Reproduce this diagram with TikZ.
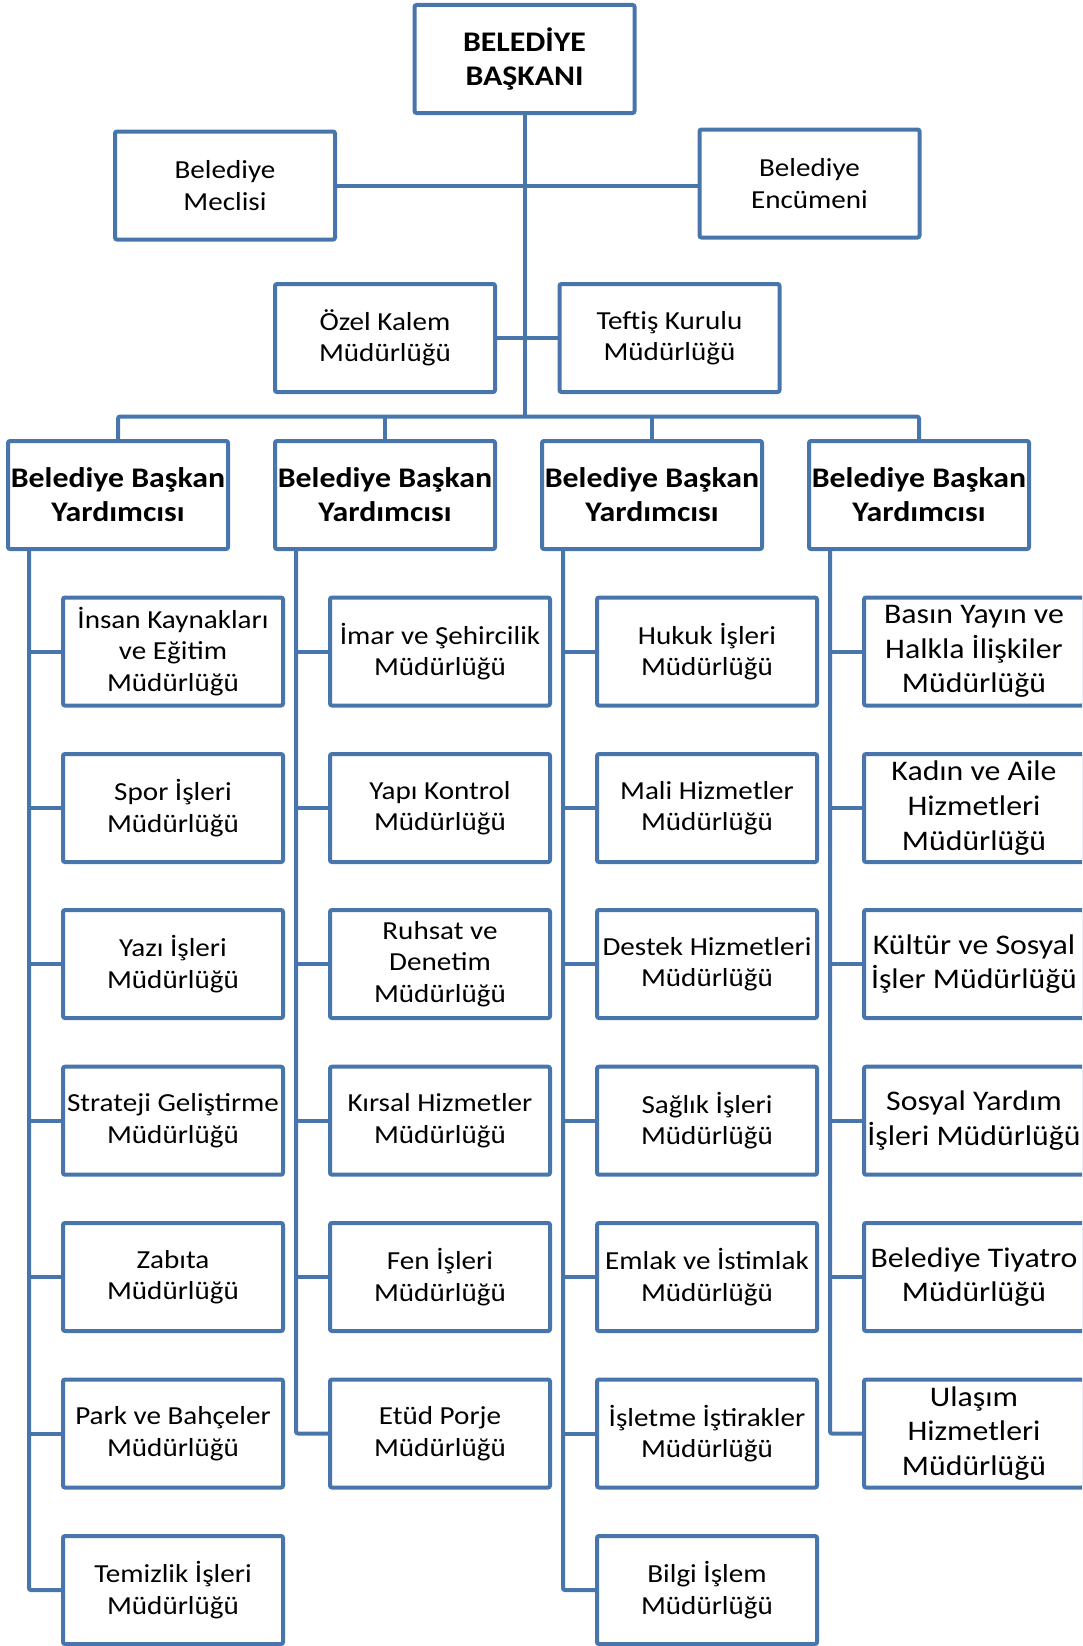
\documentclass[tikz,border=0pt]{standalone}
\usepackage{fontspec}
\setmainfont[FakeStretch=1.12]{Carlito}
\definecolor{obl}{RGB}{72,118,172}
\begin{document}
\begin{tikzpicture}[x=1pt,y=-1pt,
  box/.style={draw=obl,line width=4pt,rounded corners=2pt,fill=white,align=center,
    minimum width=220pt,minimum height=108pt,inner sep=0pt,
    font=\fontsize{26}{31.5}\selectfont},
  bigbox/.style={box,font=\fontsize{28.4}{34.6}\selectfont},
  boldbox/.style={box,font=\bfseries\fontsize{28.4}{34}\selectfont},
  link/.style={draw=obl,line width=4pt,rounded corners=2pt}]
\useasboundingbox (0,0) rectangle (1082,1646);
\clip (0,0) rectangle (1082,1646);
% top levels
\node[boldbox] (bb) at (524.5,59) {BELEDİYE\\BAŞKANI};
\node[box] (mec) at (225,185.5) {Belediye\\Meclisi};
\node[box] (enc) at (809.5,183.5) {Belediye\\Encümeni};
\node[box] (ozk) at (385,338) {Özel Kalem\\Müdürlüğü};
\node[box] (tef) at (669.5,338) {Teftiş Kurulu\\Müdürlüğü};
% deputies
\node[boldbox] (y1) at (118,495) {Belediye Başkan\\Yardımcısı};
\node[boldbox] (y2) at (385,495) {Belediye Başkan\\Yardımcısı};
\node[boldbox] (y3) at (652,495) {Belediye Başkan\\Yardımcısı};
\node[boldbox] (y4) at (919,495) {Belediye Başkan\\Yardımcısı};
\coordinate (bus) at (524.5,416.6);
% connectors top
\draw[link] (bb.south) -- (bus);
\draw[link] (mec.east) -- (enc.west |- mec.east);
\draw[link] (ozk.east) -- (tef.west);
\draw[link] (y1.north) -- (y1.north |- bus) -- (y4.north |- bus) -- (y4.north);
\draw[link] (y2.north) -- (y2.north |- bus);
\draw[link] (y3.north) -- (y3.north |- bus);
% column 1
\node[box] (a1) at (173,651.5) {İnsan Kaynakları\\ve Eğitim\\Müdürlüğü};
\node[box] (a2) at (173,808) {Spor İşleri\\Müdürlüğü};
\node[box] (a3) at (173,964) {Yazı İşleri\\Müdürlüğü};
\node[box] (a4) at (173,1120.7) {Strateji Geliştirme\\Müdürlüğü};
\node[box] (a5) at (173,1277) {Zabıta\\Müdürlüğü};
\node[box] (a6) at (173,1433.5) {Park ve Bahçeler\\Müdürlüğü};
\node[box] (a7) at (173,1590) {Temizlik İşleri\\Müdürlüğü};
% column 2
\node[box] (b1) at (440,651.5) {İmar ve Şehircilik\\Müdürlüğü};
\node[box] (b2) at (440,808) {Yapı Kontrol\\Müdürlüğü};
\node[box] (b3) at (440,964) {Ruhsat ve\\Denetim\\Müdürlüğü};
\node[box] (b4) at (440,1120.7) {Kırsal Hizmetler\\Müdürlüğü};
\node[box] (b5) at (440,1277) {Fen İşleri\\Müdürlüğü};
\node[box] (b6) at (440,1433.5) {Etüd Porje\\Müdürlüğü};
% column 3
\node[box] (c1) at (707,651.5) {Hukuk İşleri\\Müdürlüğü};
\node[box] (c2) at (707,808) {Mali Hizmetler\\Müdürlüğü};
\node[box] (c3) at (707,964) {Destek Hizmetleri\\Müdürlüğü};
\node[box] (c4) at (707,1120.7) {Sağlık İşleri\\Müdürlüğü};
\node[box] (c5) at (707,1277) {Emlak ve İstimlak\\Müdürlüğü};
\node[box] (c6) at (707,1433.5) {İşletme İştirakler\\Müdürlüğü};
\node[box] (c7) at (707,1590) {Bilgi İşlem\\Müdürlüğü};
% column 4
\node[bigbox] (d1) at (974,651.5) {Basın Yayın ve\\Halkla İlişkiler\\Müdürlüğü};
\node[bigbox] (d2) at (974,808) {Kadın ve Aile\\Hizmetleri\\Müdürlüğü};
\node[bigbox] (d3) at (974,964) {Kültür ve Sosyal\\İşler Müdürlüğü};
\node[bigbox] (d4) at (974,1120.7) {Sosyal Yardım\\İşleri Müdürlüğü};
\node[bigbox] (d5) at (974,1277) {Belediye Tiyatro\\Müdürlüğü};
\node[bigbox] (d6) at (974,1433.5) {Ulaşım\\Hizmetleri\\Müdürlüğü};
% vertical spines
\coordinate (v1) at ([xshift=23pt]y1.south west);
\coordinate (v2) at ([xshift=23pt]y2.south west);
\coordinate (v3) at ([xshift=23pt]y3.south west);
\coordinate (v4) at ([xshift=23pt]y4.south west);
\draw[link] (v1) |- (a7.west);
\draw[link] (v2) |- (b6.west);
\draw[link] (v3) |- (c7.west);
\draw[link] (v4) |- (d6.west);
\foreach \n in {a1,a2,a3,a4,a5,a6} \draw[link] (\n.west) -- (\n.west -| v1);
\foreach \n in {b1,b2,b3,b4,b5} \draw[link] (\n.west) -- (\n.west -| v2);
\foreach \n in {c1,c2,c3,c4,c5,c6} \draw[link] (\n.west) -- (\n.west -| v3);
\foreach \n in {d1,d2,d3,d4,d5} \draw[link] (\n.west) -- (\n.west -| v4);
\end{tikzpicture}
\end{document}
